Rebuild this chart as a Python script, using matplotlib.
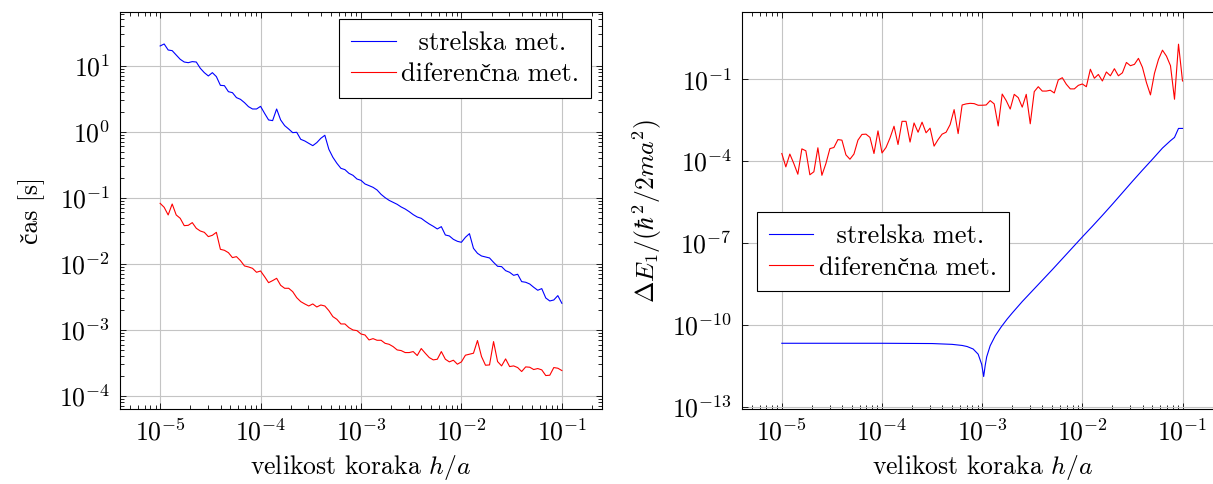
import numpy as np
import matplotlib
matplotlib.use("Agg")
import matplotlib.pyplot as plt
from matplotlib.ticker import LogLocator, FixedLocator, FuncFormatter, NullLocator

plt.rcParams['font.family'] = ['cmr10', 'Liberation Serif']
plt.rcParams['mathtext.fontset'] = 'cm'
plt.rcParams['axes.formatter.use_mathtext'] = True
plt.rcParams['axes.unicode_minus'] = False

# step sizes h/a: 25 points per decade, 1e-5 ... 1e-1
h_exp = np.linspace(-5, -1, 101)

# left: computing time [s], log10 values
cas_strelska = [
    1.298, 1.328, 1.237, 1.227, 1.161, 1.096, 1.055, 1.045, 1.061, 1.055,
    0.960, 0.894, 0.844, 0.894, 0.834, 0.702, 0.697, 0.606, 0.591, 0.516,
    0.490, 0.440, 0.379, 0.344, 0.344, 0.384, 0.278, 0.178, 0.168, 0.344,
    0.178, 0.092, 0.041, -0.014, -0.009, -0.115, -0.140, -0.176, -0.211, -0.165,
    -0.100, -0.054, -0.266, -0.387, -0.478, -0.554, -0.574, -0.630, -0.660, -0.716,
    -0.736, -0.791, -0.816, -0.842, -0.882, -0.948, -0.998, -1.039, -1.069, -1.099,
    -1.139, -1.170, -1.210, -1.255, -1.291, -1.311, -1.356, -1.397, -1.432, -1.472,
    -1.437, -1.563, -1.578, -1.629, -1.659, -1.674, -1.598, -1.543, -1.765, -1.841,
    -1.881, -1.896, -1.911, -1.977, -2.037, -2.042, -2.103, -2.128, -2.174, -2.158,
    -2.269, -2.279, -2.305, -2.355, -2.400, -2.375, -2.517, -2.562, -2.547, -2.481,
    -2.597,
]
cas_diferencna = [
    -1.084, -1.144, -1.260, -1.094, -1.260, -1.311, -1.422, -1.417, -1.376, -1.462,
    -1.503, -1.523, -1.588, -1.568, -1.523, -1.780, -1.795, -1.831, -1.906, -1.891,
    -1.952, -2.032, -2.047, -2.068, -2.128, -2.108, -2.194, -2.285, -2.254, -2.219,
    -2.325, -2.370, -2.370, -2.421, -2.512, -2.572, -2.607, -2.638, -2.607, -2.653,
    -2.623, -2.638, -2.708, -2.799, -2.840, -2.910, -2.910, -2.966, -3.001, -3.011,
    -3.062, -3.077, -3.152, -3.132, -3.157, -3.157, -3.203, -3.218, -3.253, -3.303,
    -3.313, -3.343, -3.343, -3.328, -3.388, -3.282, -3.353, -3.419, -3.454, -3.444,
    -3.328, -3.444, -3.484, -3.459, -3.519, -3.484, -3.383, -3.368, -3.353, -3.161,
    -3.403, -3.535, -3.530, -3.177, -3.479, -3.545, -3.439, -3.555, -3.545, -3.570,
    -3.630, -3.560, -3.565, -3.600, -3.585, -3.605, -3.691, -3.686, -3.570, -3.580,
    -3.615,
]

# right: energy error, log10 values
dE_diferencna = [
    -3.72, -4.21, -3.74, -4.09, -4.48, -3.55, -3.62, -4.50, -4.39, -3.51,
    -4.52, -4.09, -3.54, -3.50, -3.21, -3.23, -3.77, -3.93, -3.74, -3.23,
    -3.02, -3.01, -3.13, -3.72, -2.89, -3.70, -3.50, -3.15, -2.72, -3.39,
    -2.54, -2.54, -3.30, -2.60, -2.94, -2.57, -2.96, -2.79, -3.45, -3.21,
    -3.01, -2.94, -2.66, -2.11, -2.99, -1.94, -1.90, -1.88, -1.89, -1.95,
    -1.95, -1.94, -1.78, -1.90, -2.71, -1.54, -1.78, -2.09, -1.55, -1.67,
    -2.02, -1.55, -2.63, -1.45, -1.27, -1.43, -1.43, -1.40, -1.50, -1.02,
    -0.94, -1.18, -1.35, -1.35, -1.22, -1.17, -1.27, -0.63, -0.96, -0.82,
    -1.06, -0.73, -0.87, -0.61, -0.87, -0.76, -0.38, -0.50, -0.45, -0.23,
    -0.56, -1.12, -1.57, -0.78, -0.27, 0.07, -0.15, -0.50, -1.73, 0.29,
    -1.06,
]
strelska_h_exp = [
    -5.0, -4.0, -3.5, -3.3, -3.2, -3.15, -3.09, -3.04, -3.005, -2.985,
    -2.97, -2.955, -2.92, -2.87, -2.81, -2.75, -2.7, -2.6, -2.5, -2.4,
    -2.3, -2.2, -2.1, -2.0, -1.9, -1.8, -1.7, -1.6, -1.5, -1.4,
    -1.3, -1.2, -1.12, -1.08, -1.04, -1.0,
]
dE_strelska = [
    -10.68, -10.68, -10.69, -10.72, -10.76, -10.80, -10.89, -11.08, -11.45, -11.90,
    -11.50, -11.18, -10.77, -10.41, -10.08, -9.79, -9.57, -9.15, -8.76, -8.37,
    -7.98, -7.58, -7.18, -6.78, -6.39, -5.99, -5.58, -5.16, -4.74, -4.33,
    -3.93, -3.52, -3.25, -3.13, -2.80, -2.80,
]

labels = ["  strelska met.", "diferenčna met."]

fig = plt.figure(figsize=(12.13, 4.84), dpi=100)
ax1 = fig.add_axes([0.0989, 0.155, 0.3974, 0.8202])
ax2 = fig.add_axes([0.6115, 0.155, 0.3964, 0.8202])

h = 10 ** h_exp
ax1.loglog(h, 10 ** np.array(cas_strelska), color='#0000ff', lw=0.8, label=labels[0])
ax1.loglog(h, 10 ** np.array(cas_diferencna), color='#ff0000', lw=0.8, label=labels[1])
ax2.loglog(10 ** np.array(strelska_h_exp), 10 ** np.array(dE_strelska), color='#0000ff', lw=0.8, label=labels[0])
ax2.loglog(h, 10 ** np.array(dE_diferencna), color='#ff0000', lw=0.8, label=labels[1])

dec = FuncFormatter(lambda v, p: r'$10^{%d}$' % round(np.log10(v)))
for ax in (ax1, ax2):
    ax.set_xlim(10 ** -5.4, 10 ** -0.6)
    ax.xaxis.set_major_locator(FixedLocator([1e-5, 1e-4, 1e-3, 1e-2, 1e-1]))
    ax.xaxis.set_minor_locator(LogLocator(base=10, subs=np.arange(2, 10), numticks=20))
    ax.xaxis.set_major_formatter(dec)
    ax.grid(True, which='major', color='#c4c4c4', lw=0.8)
    ax.set_axisbelow(True)
    ax.tick_params(which='both', direction='in', top=True, right=True, labelsize=18.5, pad=7, width=0.6)
    ax.tick_params(which='major', length=4.3)
    ax.tick_params(which='minor', length=2.8)
    for s in ax.spines.values():
        s.set_linewidth(0.8)
    ax.set_xlabel(r'velikost koraka $h/a$', fontsize=18.5, labelpad=6)

ax1.set_ylim(10 ** -4.197, 10 ** 1.812)
ax1.yaxis.set_major_locator(FixedLocator([1e-4, 1e-3, 1e-2, 1e-1, 1, 10]))
ax1.yaxis.set_minor_locator(LogLocator(base=10, subs=np.arange(2, 10), numticks=20))
ax1.yaxis.set_major_formatter(dec)
ax1.set_ylabel('čas [s]', fontsize=18.5, labelpad=10)

ax2.set_ylim(10 ** -13.09, 10 ** 1.47)
ax2.yaxis.set_major_locator(FixedLocator([1e-13, 1e-10, 1e-7, 1e-4, 1e-1]))
ax2.yaxis.set_minor_locator(NullLocator())
ax2.yaxis.set_major_formatter(dec)
ax2.set_ylabel(r'$\Delta E_1/(\hbar^2/2ma^2)$', fontsize=18.5, labelpad=6)

leg_kw = dict(fontsize=19, fancybox=False, edgecolor='black', framealpha=1,
              handlelength=1.7, handletextpad=0.2, labelspacing=0.3, borderpad=0.45,
              borderaxespad=0)
l1 = ax1.legend(loc='upper right', bbox_to_anchor=(0.977, 0.982), **leg_kw)
l2 = ax2.legend(loc='upper left', bbox_to_anchor=(0.031, 0.4955), **leg_kw)
for l in (l1, l2):
    l.get_frame().set_linewidth(0.8)

fig.savefig('out.png', dpi=100)
